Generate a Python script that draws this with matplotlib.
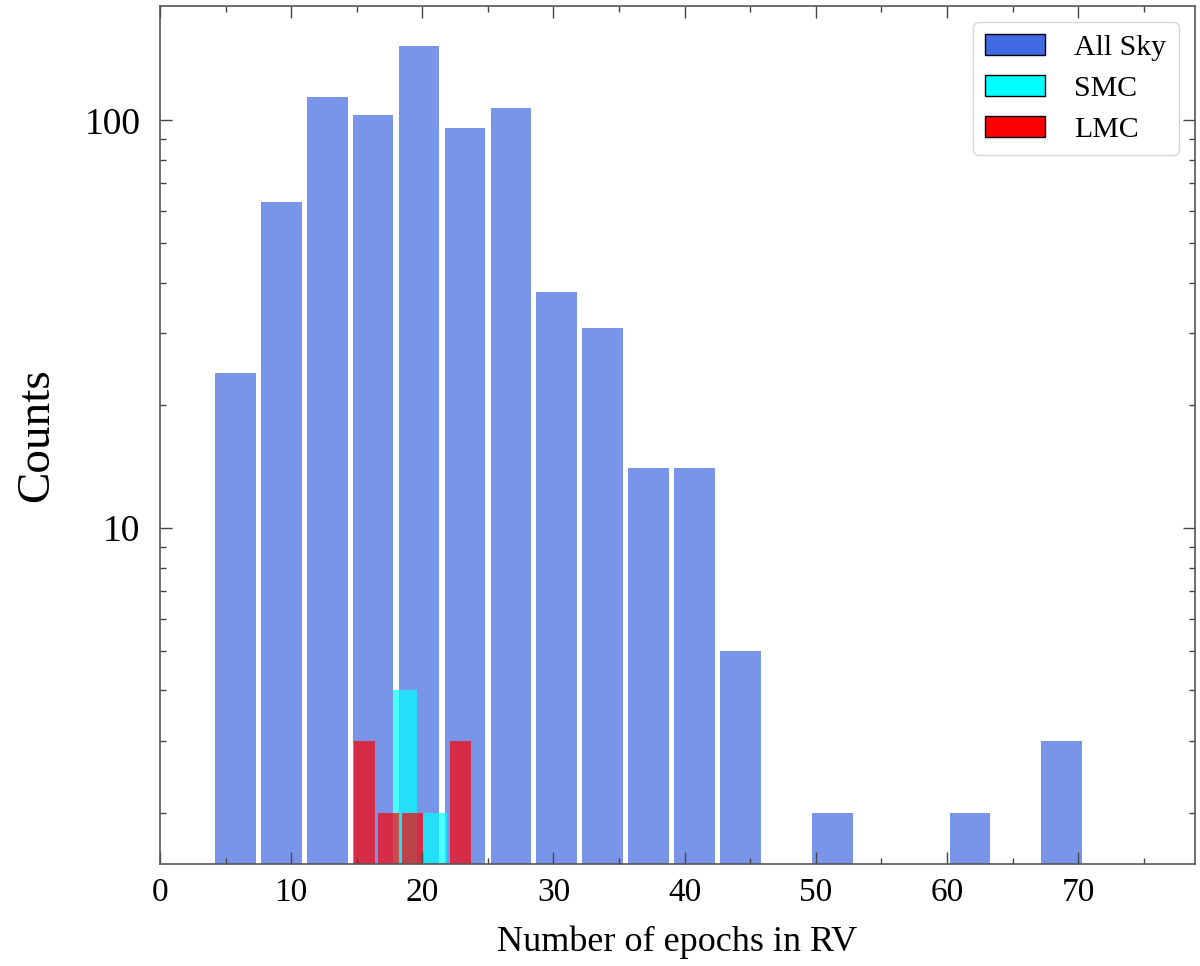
import matplotlib
matplotlib.use("Agg")
import matplotlib.pyplot as plt
import matplotlib.patches as mpatches
import matplotlib.ticker as mticker
import numpy as np

plt.rcParams['font.family'] = ['Liberation Serif', 'DejaVu Serif']
plt.rcParams['mathtext.fontset'] = 'stix'

# histogram bins and counts
allsky_edges = [4.0, 7.5, 11.0, 14.5, 18.0, 21.5, 25.0, 28.5, 32.0, 35.5, 39.0,
                42.5, 46.0, 49.5, 53.0, 56.5, 60.0, 63.5, 67.0, 70.5, 74.0]
allsky_counts = [24, 63, 114, 103, 152, 96, 107, 38, 31, 14,
                 14, 5, 0, 2, 0, 0, 2, 0, 3, 0]

smc_edges = [17.575, 19.825, 22.075]
smc_counts = [4, 2]

lmc_edges = [14.65, 16.48, 18.31, 20.14, 21.97, 23.8]
lmc_counts = [3, 2, 2, 0, 3]

fig = plt.figure(figsize=(12, 9.66), dpi=100)
ax = fig.add_axes([0.1333, 0.1056, 0.8625, 0.8885])

# bars drawn in the same order as the overlap colours suggest
ax.hist(allsky_edges[:-1], bins=allsky_edges, weights=allsky_counts,
        rwidth=0.885, color='royalblue', alpha=0.7)
ax.hist(smc_edges[:-1], bins=smc_edges, weights=smc_counts,
        rwidth=0.82, color='cyan', alpha=0.7)
ax.hist(lmc_edges[:-1], bins=lmc_edges, weights=lmc_counts,
        rwidth=0.885, color='red', alpha=0.7)

ax.set_yscale('log')
ax.set_xlim(0, 78.9)
ax.set_ylim(1.5, 191)

ax.yaxis.set_major_formatter(mticker.FuncFormatter(lambda v, p: f"{v:g}"))
ax.yaxis.set_minor_formatter(mticker.NullFormatter())
ax.xaxis.set_major_locator(mticker.MultipleLocator(10))
ax.xaxis.set_minor_locator(mticker.MultipleLocator(5))

ax.tick_params(which='both', direction='in', top=True, right=True,
               color='#444444')
ax.tick_params(which='major', length=8.5, width=1)
ax.tick_params(which='minor', length=4.3, width=1)
ax.tick_params(axis='x', which='major', labelsize=24, pad=10)
ax.tick_params(axis='y', which='major', labelsize=27, pad=14)
for sp in ax.spines.values():
    sp.set_color('#555555')
    sp.set_linewidth(1.2)

ax.set_xlabel('Number of epochs in RV', fontsize=26, labelpad=12)
ax.set_ylabel('Counts', fontsize=34, labelpad=19)

handles = [mpatches.Patch(facecolor='royalblue', edgecolor='black', label='All Sky'),
           mpatches.Patch(facecolor='cyan', edgecolor='black', label='SMC'),
           mpatches.Patch(facecolor='red', edgecolor='black', label='LMC')]
ax.legend(handles=handles, loc='upper right', fontsize=21.5, handlelength=2.0,
          handletextpad=1.0, borderaxespad=0.55, labelspacing=0.47)

fig.savefig('out.png', dpi=100)
